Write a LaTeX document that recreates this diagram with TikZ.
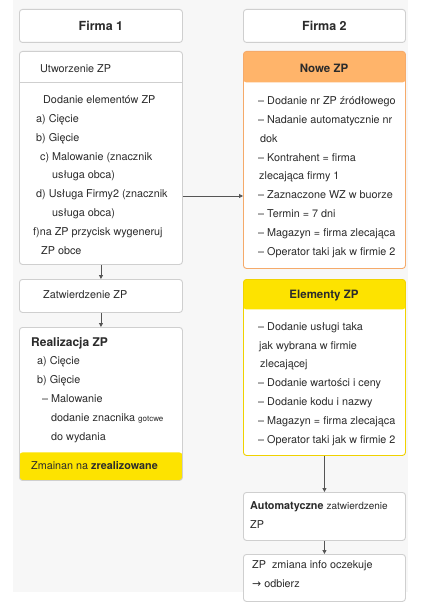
\documentclass[tikz,border=0pt]{standalone}
\usepackage{fontspec}
\setmainfont{TeX Gyre Heros}
\newfontfamily\arrowfont{DejaVu Sans}
\usetikzlibrary{arrows.meta,positioning}
\definecolor{zbg}{HTML}{F7F7F7}
\definecolor{zline}{HTML}{CFCFCF}
\definecolor{ztext}{HTML}{2B2B2B}
\definecolor{zorange}{HTML}{FFB46A}
\definecolor{zorangeline}{HTML}{F5AA6A}
\definecolor{zyellow}{HTML}{FDE300}
\definecolor{zyellowline}{HTML}{F0D200}
\definecolor{zarrow}{HTML}{555555}

\begin{document}
\begin{tikzpicture}[x=1pt, y=-1pt,
    panel/.style={rectangle, draw=zline, line width=0.9pt, fill=white, rounded corners=3pt,
      anchor=north west, inner sep=0pt, minimum width=163pt},
    headfill/.style 2 args={path picture={\fill[#1] (path picture bounding box.north west)
      rectangle ([yshift=-#2]path picture bounding box.north east);}},
    footfill/.style 2 args={path picture={\fill[#1] (path picture bounding box.south west)
      rectangle ([yshift=#2]path picture bounding box.south east);}},
    divider/.style={path picture={\draw[zline, line width=0.6pt] ([yshift=-#1]path picture bounding box.north west)
      -- ([yshift=-#1]path picture bounding box.north east);}},
    ttlbox/.style={text=ztext, font=\fontsize{12.5}{14}\selectfont\bfseries},
    % multi-line texts are anchored at the baseline of their last line
    txt/.style={anchor=base west, align=left, inner sep=0pt, text=ztext,
      font=\fontsize{10.8}{18.9}\selectfont},
    hdtxt/.style={anchor=base, inner sep=0pt, text=ztext, font=\fontsize{11.5}{13}\selectfont\bfseries},
    arr/.style={-{Triangle[length=4pt, width=4pt]}, line width=0.8pt, draw=zarrow}
]
    % page and background
    \fill[white] (0,0) rectangle (427,610);
    \fill[zbg] (13,0) rectangle (408,592);
    \useasboundingbox (0,0) rectangle (427,610);

    % Firma 1
    \node[panel, ttlbox, minimum height=33pt] (f1title) at (19,9) {Firma 1};
    \node[panel, divider=31pt, minimum height=213pt] (f1create) at (19,51) {};
    \node[panel, minimum height=33pt] (f1approve) at (19,279) {};
    \node[panel, footfill={zyellow}{28pt}, minimum height=153pt] (f1real) at (19,327) {};

    \node[txt] (f1createhd) at (40,72.5) {Utworzenie ZP};
    \node[txt] (f1createlist) at (33,254.5) {\hspace*{10pt}Dodanie elementów ZP\\
      \hspace*{3pt}a) Cięcie\\
      \hspace*{3pt}b) Gięcie\\
      \hspace*{7pt}c) Malowanie (znacznik\\
      \hspace*{19pt}usługa obca)\\
      \hspace*{3pt}d) Usługa Firmy2 (znacznik\\
      \hspace*{19pt}usługa obca)\\
      f)na ZP przycisk wygeneruj\\
      \hspace*{8pt}ZP obce};
    \node[txt] (f1approvetxt) at (43,298.5) {Zatwierdzenie ZP};
    \node[txt] (f1realtxt) at (31,440.5) {{\fontsize{12}{13}\selectfont\bfseries Realizacja ZP}\\
      \hspace*{6pt}a) Cięcie\\
      \hspace*{6pt}b) Gięcie\\
      \hspace*{11pt}– Malowanie\\
      \hspace*{20pt}dodanie znacnika {\fontsize{8}{9}\selectfont gotcwe}\\
      \hspace*{20pt}do wydania};
    \node[txt] (f1realfoot) at (31,469.5) {Zmainan na \textbf{zrealizowane}};

    % Firma 2
    \node[panel, ttlbox, minimum height=33pt, minimum width=162pt] (f2title) at (243,9) {Firma 2};
    \node[panel, draw=zorangeline, headfill={zorange}{31pt}, minimum height=217pt, minimum width=162pt] (f2new) at (243,51) {};
    \node[panel, draw=zyellowline, headfill={zyellow}{30pt}, minimum height=176pt, minimum width=162pt] (f2elem) at (243,279) {};
    \node[panel, minimum height=48pt, minimum width=162pt] (f2auto) at (243,492) {};
    \node[panel, minimum height=47pt, minimum width=162pt] (f2info) at (243,554) {};

    \node[hdtxt] (f2newhd) at (324,73) {Nowe ZP};
    \node[txt] (f2newlist) at (258,255.5) {– Dodanie nr ZP źródłowego\\
      – Nadanie automatycznie nr\\
      \hspace*{2pt}dok\\
      – Kontrahent = firma\\
      \hspace*{1pt}zlecająca firmy 1\\
      – Zaznaczone WZ w buorze\\
      – Termin = 7 dni\\
      – Magazyn = firma zlecająca\\
      – Operator taki jak w firmie 2};
    \node[hdtxt] (f2elemhd) at (324,298.5) {Elementy ZP};
    \node[txt] (f2elemlist) at (258,443.5) {– Dodanie usługi taka\\
      \hspace*{1pt}jak wybrana w firmie\\
      \hspace*{2pt}zlecającej\\
      – Dodanie wartości i ceny\\
      – Dodanie kodu i nazwy\\
      – Magazyn = firma zlecająca\\
      – Operator taki jak w firmie 2};
    \node[txt] (f2autotxt) at (250,528.5) {\textbf{Automatyczne} {\fontsize{10}{12}\selectfont zatwierdzenie}\\ZP};
    \node[txt] (f2infotxt) at (252,587.5) {ZP\ \ zmiana info oczekuje\\{\arrowfont →} odbierz};

    % Arrows
    \coordinate (hlink) at (0,196);
    \draw[arr] (f1create.south) -- (f1approve.north);
    \draw[arr] (f1approve.south) -- (f1real.north);
    \draw[arr] (f1create.east |- hlink) -- (f2new.west |- hlink);
    \draw[arr] (f2elem.south) -- (f2auto.north);
    \draw[arr] (f2auto.south) -- (f2info.north);
\end{tikzpicture}
\end{document}
